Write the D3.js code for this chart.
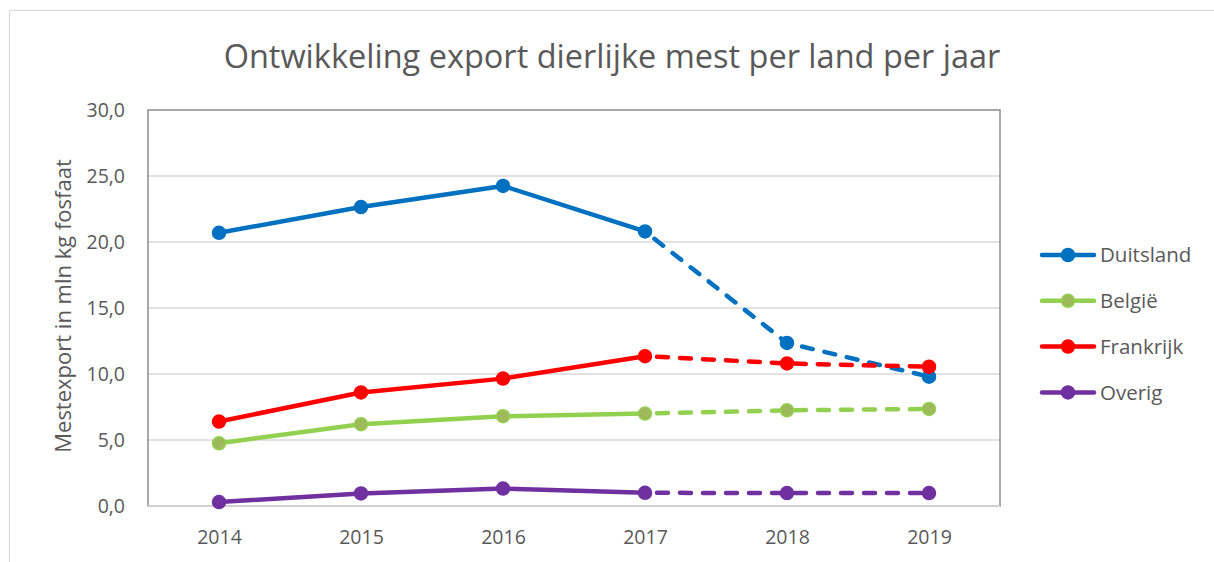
<!DOCTYPE html>
<html lang="nl">
<head>
<meta charset="UTF-8">
<title>Ontwikkeling export dierlijke mest</title>
<script src="https://cdn.jsdelivr.net/npm/d3@7"></script>
<style>
  html, body { margin: 0; padding: 0; background: #fff; }
  svg { display: block; font-family: "Open Sans", "Noto Sans", sans-serif; }
</style>
</head>
<body>
<svg id="chart" width="1214" height="562"></svg>
<script>
// data
const years = ["2014", "2015", "2016", "2017", "2018", "2019"];
const duitsland = [20.7, 22.65, 24.25, 20.8, 12.35, 9.8];
const belgie    = [4.75, 6.2, 6.8, 7.0, 7.25, 7.35];
const frankrijk = [6.4, 8.6, 9.65, 11.35, 10.8, 10.55];
const overig    = [0.3, 0.95, 1.32, 1.0, 0.98, 0.98];
const seriesNames = ["Duitsland", "België", "Frankrijk", "Overig"];
const yTicks = [0, 5, 10, 15, 20, 25, 30];
const forecastFrom = "2017"; // dashed from here on

const series = [
  {name: seriesNames[0], values: duitsland, color: "#0070C0", fill: "#0070C0"},
  {name: seriesNames[1], values: belgie,    color: "#92D050", fill: "#9DB95A"},
  {name: seriesNames[2], values: frankrijk, color: "#FF0000", fill: "#FF0000"},
  {name: seriesNames[3], values: overig,    color: "#7030A0", fill: "#7030A0"}
];

const svg = d3.select("#chart");
const nl = d3.formatLocale({decimal: ",", thousands: ".", grouping: [3], currency: ["€", ""]});
const fmt = nl.format(".1f");

const plot = {left: 148, right: 1000, top: 110, bottom: 506};

// outer chart border
svg.append("rect")
  .attr("x", 9.5).attr("y", 10.5)
  .attr("width", 1300).attr("height", 600)
  .attr("fill", "none").attr("stroke", "#d9d9d9").attr("stroke-width", 1.2);

const x = d3.scalePoint().domain(years).range([plot.left, plot.right]).padding(0.5);
const y = d3.scaleLinear().domain([0, 30]).range([plot.bottom, plot.top]);

// gridlines
svg.append("g").selectAll("line").data(yTicks.filter(d => d > 0 && d < 30)).join("line")
  .attr("x1", plot.left).attr("x2", plot.right)
  .attr("y1", d => y(d)).attr("y2", d => y(d))
  .attr("stroke", "#d9d9d9").attr("stroke-width", 1.5);

// plot area border
svg.append("rect")
  .attr("x", plot.left).attr("y", plot.top)
  .attr("width", plot.right - plot.left).attr("height", plot.bottom - plot.top)
  .attr("fill", "none").attr("stroke", "#8c8c8c").attr("stroke-width", 1.5);

svg.append("line")
  .attr("x1", plot.left).attr("x2", plot.right)
  .attr("y1", y(0)).attr("y2", y(0))
  .attr("stroke", "#d0d0d0").attr("stroke-width", 1.8);

// y axis
const yAxis = svg.append("g")
  .attr("transform", `translate(${plot.left},0)`)
  .call(d3.axisLeft(y).tickValues(yTicks).tickFormat(fmt).tickSize(0).tickPadding(23));
yAxis.select(".domain").remove();
yAxis.selectAll("text").attr("font-size", 19.5).attr("fill", "#595959")
  .attr("font-family", "'Open Sans', sans-serif");

// x axis
const xAxis = svg.append("g")
  .attr("transform", `translate(0,${plot.bottom})`)
  .call(d3.axisBottom(x).tickSize(0).tickPadding(24));
xAxis.select(".domain").remove();
xAxis.selectAll("text").attr("font-size", 19.5).attr("fill", "#595959")
  .attr("font-family", "'Open Sans', sans-serif");

// title
svg.append("text")
  .attr("x", 612).attr("y", 68)
  .attr("text-anchor", "middle")
  .attr("font-size", 32.5).attr("fill", "#595959")
  .text("Ontwikkeling export dierlijke mest per land per jaar");

// y axis title
svg.append("text")
  .attr("transform", "translate(71,306) rotate(-90)")
  .attr("text-anchor", "middle")
  .attr("font-size", 22).attr("fill", "#595959")
  .text("Mestexport in mln kg fosfaat");

// lines
const line = d3.line().x(d => x(d.year)).y(d => y(d.value));
const splitIdx = years.indexOf(forecastFrom);

series.forEach(s => {
  const pts = years.map((yr, i) => ({year: yr, value: s.values[i]}));
  const g = svg.append("g");
  g.append("path").datum(pts.slice(0, splitIdx + 1))
    .attr("d", line).attr("fill", "none")
    .attr("stroke", s.color).attr("stroke-width", 4.5)
    .attr("stroke-linejoin", "round");
  g.append("path").datum(pts.slice(splitIdx))
    .attr("d", line).attr("fill", "none")
    .attr("stroke", s.color).attr("stroke-width", 4.5)
    .attr("stroke-linecap", "round")
    .attr("stroke-dasharray", "11,12")
    .attr("stroke-dashoffset", -12);
  g.selectAll("circle").data(pts).join("circle")
    .attr("cx", d => x(d.year)).attr("cy", d => y(d.value))
    .attr("r", 6.5)
    .attr("fill", s.fill).attr("stroke", s.color).attr("stroke-width", 1.5);
});

// legend
const legend = svg.append("g").attr("transform", "translate(1040,255)");
series.forEach((s, i) => {
  const row = legend.append("g").attr("transform", `translate(0,${i * 45.8})`);
  row.append("line").attr("x1", 2).attr("x2", 54).attr("y1", 0).attr("y2", 0)
    .attr("stroke", s.color).attr("stroke-width", 4.5).attr("stroke-linecap", "round");
  row.append("circle").attr("cx", 28).attr("cy", 0).attr("r", 6.5)
    .attr("fill", s.fill).attr("stroke", s.color).attr("stroke-width", 1.5);
  row.append("text").attr("x", 60).attr("y", 0).attr("dy", "0.35em")
    .attr("font-size", 20.5).attr("fill", "#595959").text(s.name);
});
</script>
</body>
</html>
